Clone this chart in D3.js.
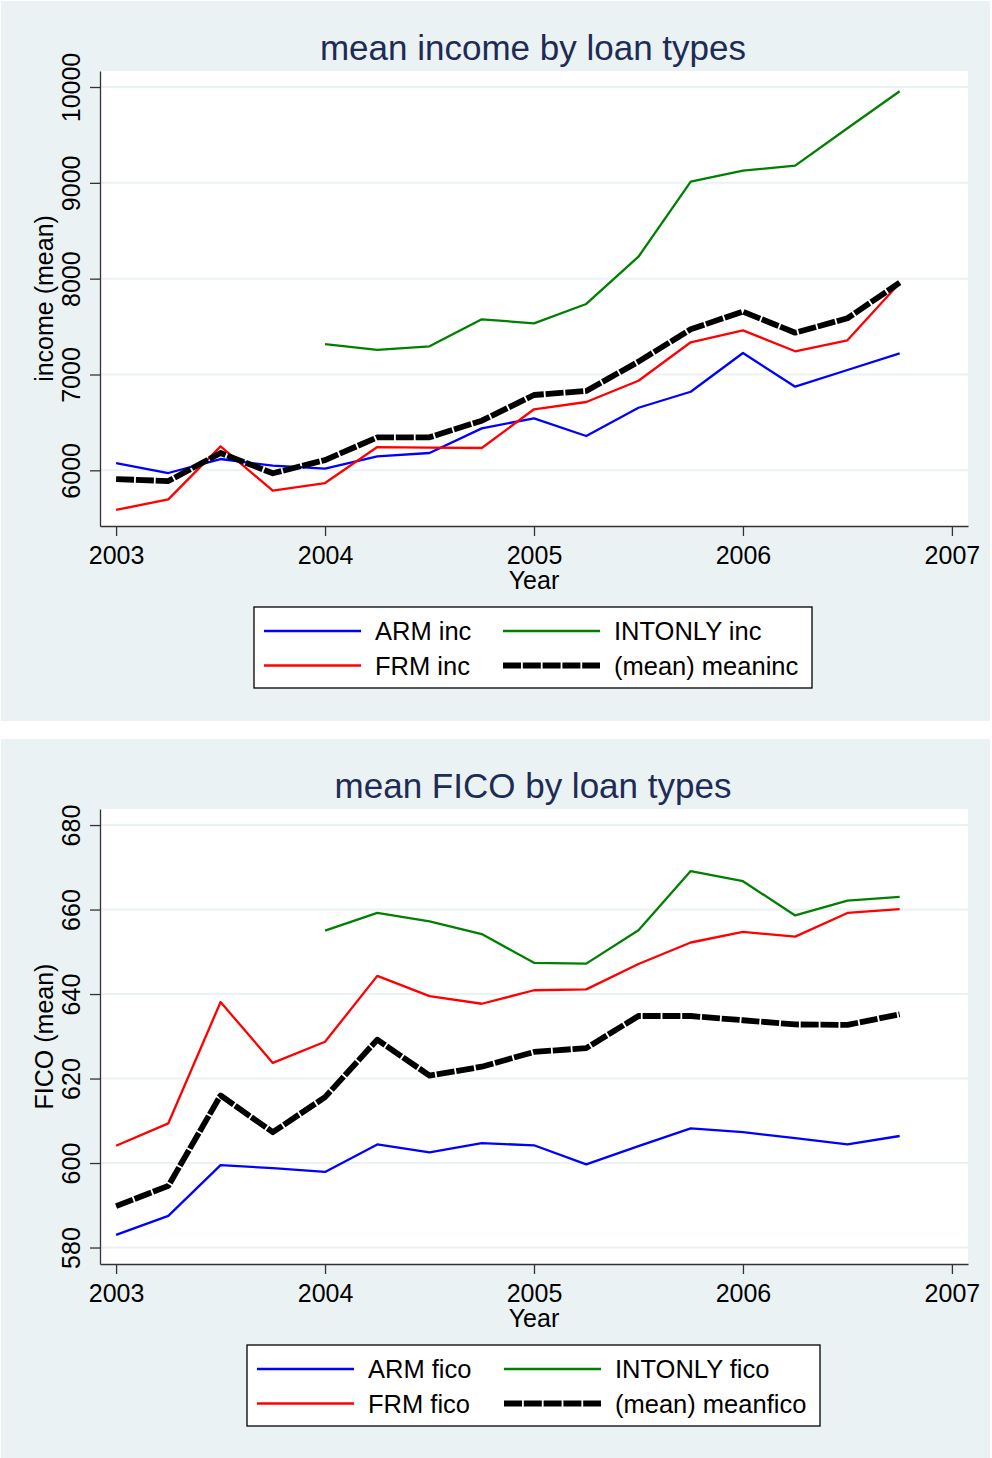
<!DOCTYPE html>
<html>
<head>
<meta charset="utf-8">
<script src="https://cdn.jsdelivr.net/npm/d3@7"></script>
<style>
  body { margin: 0; background: #fff; }
  svg { display: block; font-family: "Liberation Sans", Arial, sans-serif; }
</style>
</head>
<body>
<div id="chart"></div>
<script>
// quarterly x positions and year ticks
var quarters = [2003, 2003.25, 2003.5, 2003.75, 2004, 2004.25, 2004.5, 2004.75,
                2005, 2005.25, 2005.5, 2005.75, 2006, 2006.25, 2006.5, 2006.75];
var yearTicks = [2003, 2004, 2005, 2006, 2007];

// income panel
var armInc     = [6076, 5972, 6118, 6048, 6017, 6146, 6181, 6438, 6543, 6358, 6653, 6820, 7224, 6873, 7047, 7221];
var frmInc     = [5586, 5697, 6250, 5787, 5867, 6243, 6236, 6233, 6637, 6713, 6935, 7336, 7461, 7242, 7357, 7955];
var intonlyInc = [null, null, null, null, 7318, 7256, 7294, 7576, 7534, 7736, 8229, 9012, 9127, 9180, 9570, 9956];
var meanInc    = [5909, 5888, 6181, 5969, 6107, 6344, 6344, 6518, 6786, 6828, 7134, 7472, 7656, 7436, 7587, 7958];
var incTicks   = [6000, 7000, 8000, 9000, 10000];
var incNames   = ["ARM inc", "FRM inc", "INTONLY inc", "(mean) meaninc"];

// FICO panel
var armFico     = [583.0, 587.5, 599.5, 598.8, 597.9, 604.4, 602.5, 604.7, 604.2, 599.7, 604.0, 608.2, 607.3, 605.9, 604.4, 606.4];
var frmFico     = [604.1, 609.4, 638.1, 623.7, 628.7, 644.3, 639.5, 637.7, 640.9, 641.1, 647.1, 652.2, 654.7, 653.6, 659.2, 660.1];
var intonlyFico = [null, null, null, null, 655.0, 659.2, 657.2, 654.2, 647.4, 647.2, 655.1, 669.1, 666.7, 658.6, 662.1, 663.0];
var meanFico    = [589.8, 594.6, 616.0, 607.3, 615.6, 629.2, 620.7, 622.8, 626.3, 627.2, 634.8, 634.8, 633.8, 632.8, 632.7, 635.2];
var ficoTicks   = [580, 600, 620, 640, 660, 680];
var ficoNames   = ["ARM fico", "FRM fico", "INTONLY fico", "(mean) meanfico"];

var colors = ["#0000ff", "#ff0000", "#008000", "#000000"];
var widths = [2.3, 2.3, 2.3, 5.8];
var dashes = [null, null, null, "18,1.8"];

var W = 992, H = 1458;
var bg = "#eaf2f3";

var svg = d3.select("#chart").append("svg")
  .attr("width", W)
  .attr("height", H);

function drawPanel(offsetY, opts) {
  var g = svg.append("g").attr("transform", "translate(0," + offsetY + ")");

  // panel background
  g.append("rect")
    .attr("x", 1).attr("y", 1)
    .attr("width", 989).attr("height", 720)
    .attr("fill", bg);

  var left = 100, right = 968, top = 71, bottom = 526;

  g.append("rect")
    .attr("x", left).attr("y", top)
    .attr("width", right - left).attr("height", bottom - top)
    .attr("fill", "#fff");

  var x = d3.scaleLinear().domain([2002.923, 2007.077]).range([left, right]);
  var y = d3.scaleLinear().domain(opts.yDomain).range([bottom, top]);

  // grid lines
  g.append("g").selectAll("line")
    .data(opts.yTicks)
    .enter().append("line")
      .attr("x1", left).attr("x2", right)
      .attr("y1", function(d) { return y(d); })
      .attr("y2", function(d) { return y(d); })
      .attr("stroke", bg)
      .attr("stroke-width", 2);

  // y axis
  var yAxis = g.append("g")
    .attr("transform", "translate(" + left + ",0)")
    .call(d3.axisLeft(y).tickValues(opts.yTicks).tickSize(10).tickSizeOuter(0).tickFormat(d3.format("d")));
  yAxis.select(".domain").attr("stroke", "#333").attr("stroke-width", 1.3);
  yAxis.selectAll(".tick line").attr("stroke", "#333").attr("stroke-width", 1.3);
  yAxis.selectAll(".tick text")
    .attr("x", 0).attr("y", -20).attr("dy", 0)
    .attr("transform", "rotate(-90)")
    .attr("text-anchor", "middle")
    .attr("fill", "#000")
    .style("font-size", "25px")
    .style("font-family", "Liberation Sans, Arial, sans-serif");

  // x axis
  var xAxis = g.append("g")
    .attr("transform", "translate(0," + bottom + ")")
    .call(d3.axisBottom(x).tickValues(yearTicks).tickSize(10).tickSizeOuter(0).tickFormat(d3.format("d")));
  xAxis.select(".domain").attr("stroke", "#333").attr("stroke-width", 1.3);
  xAxis.selectAll(".tick line").attr("stroke", "#333").attr("stroke-width", 1.3);
  xAxis.selectAll(".tick text")
    .attr("y", 38).attr("dy", 0)
    .attr("fill", "#000")
    .style("font-size", "25px")
    .style("font-family", "Liberation Sans, Arial, sans-serif");

  // axis titles
  g.append("text")
    .attr("x", x(2005)).attr("y", 589)
    .attr("text-anchor", "middle")
    .style("font-size", "25px")
    .text("Year");

  g.append("text")
    .attr("transform", "translate(53," + ((top + bottom) / 2) + ") rotate(-90)")
    .attr("text-anchor", "middle")
    .style("font-size", "25px")
    .text(opts.yTitle);

  // chart title
  g.append("text")
    .attr("x", 533).attr("y", 59.5)
    .attr("text-anchor", "middle")
    .attr("fill", "#1e2b55")
    .style("font-size", "35px")
    .text(opts.title);

  // series lines
  var line = d3.line()
    .defined(function(d) { return d.v != null; })
    .x(function(d) { return x(d.q); })
    .y(function(d) { return y(d.v); });

  opts.series.forEach(function(vals, i) {
    var pts = quarters.map(function(q, j) { return {q: q, v: vals[j]}; });
    g.append("path")
      .datum(pts)
      .attr("d", line)
      .attr("fill", "none")
      .attr("stroke", colors[i])
      .attr("stroke-width", widths[i])
      .attr("stroke-dasharray", dashes[i])
      .attr("stroke-linejoin", "round");
  });

  // legend
  var lg = g.append("g");
  lg.append("rect")
    .attr("x", opts.legX).attr("y", 607)
    .attr("width", opts.legW).attr("height", 81)
    .attr("fill", "#fff")
    .attr("stroke", "#000")
    .attr("stroke-width", 1.3);

  // column-first order: ARM, FRM | INTONLY, mean
  var colX = [opts.legX + 10, opts.col2X];
  var rowY = [631, 665.5];
  opts.names.forEach(function(name, i) {
    var cx = colX[Math.floor(i / 2)];
    var cy = rowY[i % 2];
    lg.append("line")
      .attr("x1", cx).attr("x2", cx + 97)
      .attr("y1", cy).attr("y2", cy)
      .attr("stroke", colors[i])
      .attr("stroke-width", i === 3 ? 5.8 : 2.5)
      .attr("stroke-dasharray", dashes[i]);
    lg.append("text")
      .attr("x", cx + 111).attr("y", cy + 9)
      .style("font-size", "25.5px")
      .text(name);
  });
}

drawPanel(0, {
  title: "mean income by loan types",
  yTitle: "income (mean)",
  yDomain: [5419, 10167],
  yTicks: incTicks,
  series: [armInc, frmInc, intonlyInc, meanInc],
  names: incNames,
  legX: 254, legW: 558, col2X: 503
});

drawPanel(738, {
  title: "mean FICO by loan types",
  yTitle: "FICO (mean)",
  yDomain: [576.1, 683.8],
  yTicks: ficoTicks,
  series: [armFico, frmFico, intonlyFico, meanFico],
  names: ficoNames,
  legX: 247, legW: 573, col2X: 504
});
</script>
</body>
</html>
